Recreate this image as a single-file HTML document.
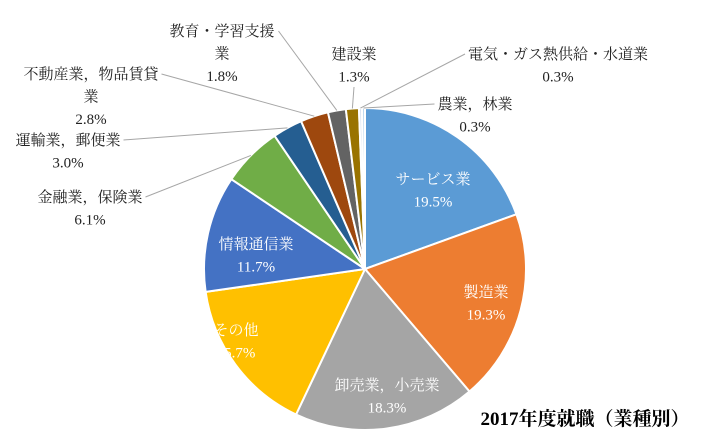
<!DOCTYPE html>
<html><head><meta charset="utf-8"><style>
body{margin:0;background:#fff;}
svg text{font-family:"Liberation Serif","Noto Serif CJK JP",serif;}
</style></head><body>
<svg id="chart" width="706" height="439" viewBox="0 0 706 439" xmlns="http://www.w3.org/2000/svg">
<rect width="706" height="439" fill="#fff"/>
<g id="slices"></g>
<g id="leaders"></g>
<g id="labels"></g>
<text x="585" y="425" text-anchor="middle" font-size="19" font-weight="bold" fill="#000">2017年度就職（業種別）</text>
</svg>
<script>
const categories=["サービス業","製造業","卸売業，小売業","その他","情報通信業","金融業，保険業","運輸業，郵便業","不動産業，物品賃貸業","教育・学習支援業","建設業","電気・ガス熱供給・水道業","農業，林業"];
const values=[19.5,19.3,18.3,15.7,11.7,6.1,3.0,2.8,1.8,1.3,0.3,0.3];
const valueLabels=["19.5%","19.3%","18.3%","15.7%","11.7%","6.1%","3.0%","2.8%","1.8%","1.3%","0.3%","0.3%"];
const colors=["#5B9BD5","#ED7D31","#A5A5A5","#FFC000","#4472C4","#70AD47","#255E91","#9E480E","#636363","#997300","#D9E2F0","#BDD7EE"];
// label layout: [lines..., x, y, inside?]
const labelLines=[["サービス業"],["製造業"],["卸売業，小売業"],["その他"],["情報通信業"],["金融業，保険業"],["運輸業，郵便業"],["不動産業，物品賃貸","業"],["教育・学習支援","業"],["建設業"],["電気・ガス熱供給・水道業"],["農業，林業"]];
const labelPos=[[433,184,1],[486,297,1],[387,390,1],[236,335,1],[256,249,1],[90,202,0],[68,145,0],[91,79,0],[222,36,0],[354,59,0],[558,59,0],[475,109,0]];
const cx=365,cy=269,r=161;
const NS="http://www.w3.org/2000/svg";
const total=values.reduce((a,b)=>a+b,0);
const slices=document.getElementById('slices'),labels=document.getElementById('labels'),leaders=document.getElementById('leaders');
function pt(a,rr){return [cx+rr*Math.sin(a),cy-rr*Math.cos(a)];}
let acc=0;
values.forEach((v,i)=>{
  const a0=acc/total*2*Math.PI;acc+=v;const a1=acc/total*2*Math.PI;
  const p0=pt(a0,r),p1=pt(a1,r);
  const large=(a1-a0)>Math.PI?1:0;
  const p=document.createElementNS(NS,'path');
  p.setAttribute('d',`M${cx},${cy}L${p0[0]},${p0[1]}A${r},${r} 0 ${large} 1 ${p1[0]},${p1[1]}Z`);
  p.setAttribute('fill',colors[i]);p.setAttribute('stroke','#fff');p.setAttribute('stroke-width','2');
  
  
  slices.appendChild(p);
  const lp=labelPos[i],lines=labelLines[i].concat([valueLabels[i]]);
  const t=document.createElementNS(NS,'text');
  t.setAttribute('text-anchor','middle');t.setAttribute('font-size','15');
  t.setAttribute('fill',lp[2]?'#fff':'#222');
  
  
  lines.forEach((s,k)=>{const ts=document.createElementNS(NS,'tspan');ts.setAttribute('x',lp[0]);ts.setAttribute('y',lp[1]+k*22.5);ts.textContent=s;t.appendChild(ts);});
  labels.appendChild(t);
  if(!lp[2]){
    const m=pt((a0+a1)/2,r);
    const bw=labelLines[i].reduce((mx,s)=>Math.max(mx,s.length),0)*15;
    let ex,ey=lp[1]-5;
    if(lp[0]<cx){ex=lp[0]+bw/2+3;}else{ex=lp[0]-bw/2-3;}
    if(i===8){ex=lp[0]+bw/2+4;ey=lp[1]-5;}
    if(i===9){ex=lp[0];ey=lp[1]+28;}
    const l=document.createElementNS(NS,'polyline');
    l.setAttribute('points',`${m[0]},${m[1]} ${ex},${ey}`);
    l.setAttribute('fill','none');l.setAttribute('stroke','#A6A6A6');l.setAttribute('stroke-width','1');
    
    
    leaders.appendChild(l);
  }
});
</script>
</body></html>
